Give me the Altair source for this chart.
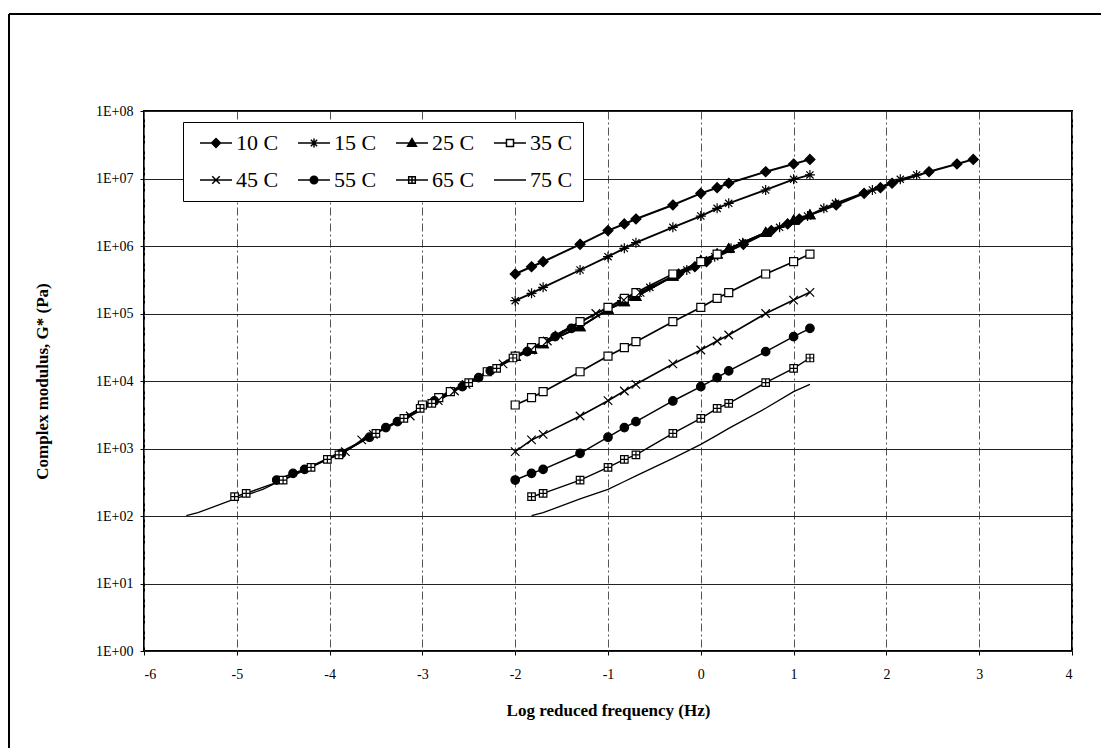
import altair as alt
import pandas as pd

temps = ["10 C", "15 C", "25 C", "35 C", "45 C", "55 C", "65 C", "75 C"]

# log10 of test frequency (0.01 ... 15 Hz)
log_freq = [-2.0, -1.824, -1.699, -1.301, -1.0, -0.824, -0.699, -0.301,
            0.0, 0.176, 0.301, 0.699, 1.0, 1.176]

# complex modulus G* (Pa)
g_10 = [3.85e5, 4.93e5, 5.85e5, 1.06e6, 1.69e6, 2.12e6, 2.51e6, 4.05e6,
        6.03e6, 7.31e6, 8.51e6, 1.26e7, 1.64e7, 1.92e7]
g_15 = [1.55e5, 1.99e5, 2.44e5, 4.41e5, 6.95e5, 9.23e5, 1.12e6, 1.89e6,
        2.78e6, 3.61e6, 4.29e6, 6.76e6, 9.73e6, 1.13e7]
g_25 = [2.29e4, 2.95e4, 3.55e4, 6.31e4, 1.15e5, 1.48e5, 1.78e5, 3.55e5,
        6.03e5, 7.59e5, 9.12e5, 1.58e6, 2.40e6, 2.88e6]
g_35 = [4.41e3, 5.66e3, 6.95e3, 1.37e4, 2.34e4, 3.12e4, 3.83e4, 7.57e4,
        1.23e5, 1.68e5, 2.04e5, 3.85e5, 5.86e5, 7.60e5]
g_45 = [898, 1.34e3, 1.62e3, 3.03e3, 5.11e3, 7.11e3, 8.93e3, 1.79e4,
        2.88e4, 3.92e4, 4.80e4, 1.00e5, 1.58e5, 2.06e5]
g_55 = [341, 429, 491, 849, 1.47e3, 2.04e3, 2.50e3, 5.06e3,
        8.24e3, 1.12e4, 1.41e4, 2.72e4, 4.54e4, 6.03e4]
g_65 = [None, 193, 217, 341, 526, 692, 802, 1.68e3,
        2.80e3, 3.94e3, 4.67e3, 9.44e3, 1.54e4, 2.19e4]
g_75 = [None, 101, 112, 179, 248, 324, 392, 714,
        1.15e3, 1.58e3, 1.99e3, 3.94e3, 6.95e3, 8.91e3]

# horizontal shift factors log(aT) used for the master curve
log_shift = [1.76, 1.15, 0.0, -1.0, -1.83, -2.57, -3.2, -3.72]

series = [g_10, g_15, g_25, g_35, g_45, g_55, g_65, g_75]

rows = []
for t, vals, sh in zip(temps, series, log_shift):
    for lf, g in zip(log_freq, vals):
        if g is None:
            continue
        rows.append({"Temp": t, "set": "measured", "x": lf, "G": g})
        rows.append({"Temp": t, "set": "shifted", "x": lf + sh, "G": g})
df = pd.DataFrame(rows)
df["series"] = df["Temp"] + " " + df["set"]


def fmt(v):
    return f"{v:.3f}".rstrip("0").rstrip(".")


def marker(kind, cx, s):
    if kind == "diamond":
        return f"M{fmt(cx)},{fmt(-s)}L{fmt(cx+s)},0L{fmt(cx)},{fmt(s)}L{fmt(cx-s)},0Z"
    if kind == "asterisk":
        d = 0.72 * s
        return (f"M{fmt(cx-s)},0H{fmt(cx+s)}M{fmt(cx)},{fmt(-s)}V{fmt(s)}"
                f"M{fmt(cx-d)},{fmt(-d)}L{fmt(cx+d)},{fmt(d)}M{fmt(cx-d)},{fmt(d)}L{fmt(cx+d)},{fmt(-d)}")
    if kind == "triangle":
        return f"M{fmt(cx)},{fmt(-s)}L{fmt(cx+s)},{fmt(0.75*s)}L{fmt(cx-s)},{fmt(0.75*s)}Z"
    if kind == "square":
        a = 0.8 * s
        return f"M{fmt(cx-a)},{fmt(-a)}H{fmt(cx+a)}V{fmt(a)}H{fmt(cx-a)}Z"
    if kind == "x":
        a = 0.85 * s
        return f"M{fmt(cx-a)},{fmt(-a)}L{fmt(cx+a)},{fmt(a)}M{fmt(cx-a)},{fmt(a)}L{fmt(cx+a)},{fmt(-a)}"
    if kind == "circle":
        r = 0.85 * s
        return (f"M{fmt(cx+r)},0A{fmt(r)},{fmt(r)},0,1,1,{fmt(cx-r)},0"
                f"A{fmt(r)},{fmt(r)},0,1,1,{fmt(cx+r)},0Z")
    if kind == "sqplus":
        a = 0.75 * s
        return (f"M{fmt(cx-a)},{fmt(-a)}H{fmt(cx+a)}V{fmt(a)}H{fmt(cx-a)}Z"
                f"M{fmt(cx)},{fmt(-a)}V{fmt(a)}M{fmt(cx-a)},0H{fmt(cx+a)}")
    return ""


kinds = ["diamond", "asterisk", "triangle", "square", "x", "circle", "sqplus", "none"]
fills = ["black", "black", "black", "white", "black", "black", "white", "black"]
widths = [2.0, 1.3, 1.8, 1.2, 1.5, 2.0, 1.2, 1.8]

plot_paths = [marker(k, 0, 1) for k in kinds[:7]]

leg_paths = []
for k in kinds:
    cx, s = 1.5, 0.55
    if k == "none":
        leg_paths.append("M-0.5,0H3.5")
    elif k in ("square", "sqplus"):
        a = 0.8 * s if k == "square" else 0.75 * s
        leg_paths.append(f"M-0.5,0H{fmt(cx-a)}M{fmt(cx+a)},0H3.5" + marker(k, cx, s))
    else:
        leg_paths.append("M-0.5,0H3.5" + marker(k, cx, s))

SERIF = "Liberation Serif"

xs = alt.Scale(domain=[-6, 4], nice=False, zero=False)
ys = alt.Scale(type="log", domain=[1, 1e8], nice=False)

x_axis = alt.Axis(
    values=list(range(-6, 5)), labelExpr="'' + datum.value", grid=True, gridColor="#555",
    gridDash=[8, 3, 2, 3], gridWidth=1, domain=False, tickColor="black",
    tickSize=4, labelFont=SERIF, labelFontSize=14, labelColor="black",
    labelPadding=12, title="Log reduced frequency (Hz)", titleFont=SERIF,
    titleFontSize=17, titleFontWeight="bold", titleColor="black", titlePadding=21,
)
y_axis = alt.Axis(
    values=[10 ** k for k in range(9)],
    labelExpr="'1E+0' + round(log(datum.value) / LN10)",
    grid=True, gridColor="#222", gridWidth=1.2, domain=False, tickColor="black",
    tickSize=4, labelFont=SERIF, labelFontSize=14, labelColor="black",
    labelPadding=7, title="Complex modulus, G* (Pa)", titleFont=SERIF,
    titleFontSize=17, titleFontWeight="bold", titleColor="black", titlePadding=44,
)

base = alt.Chart(df)

lines = base.mark_line(color="black").encode(
    x=alt.X("x:Q", scale=xs, axis=x_axis),
    y=alt.Y("G:Q", scale=ys, axis=y_axis),
    detail="series:N",
    strokeWidth=alt.StrokeWidth("Temp:N", scale=alt.Scale(domain=temps, range=widths), legend=None),
)

points = base.transform_filter("datum.Temp != '75 C'").mark_point(
    filled=True, stroke="black", strokeWidth=1.2, size=100, opacity=1
).encode(
    x=alt.X("x:Q", scale=xs),
    y=alt.Y("G:Q", scale=ys),
    shape=alt.Shape("Temp:N", scale=alt.Scale(domain=temps[:7], range=plot_paths), legend=None),
    fill=alt.Fill("Temp:N", scale=alt.Scale(domain=temps[:7], range=fills[:7]), legend=None),
)

leg = alt.Legend(
    title=None, orient="none", legendX=39, legendY=11, columns=4,
    direction="horizontal",
    columnPadding=12, rowPadding=15, padding=10, strokeColor="black",
    fillColor="white", labelFont=SERIF, labelFontSize=22, labelColor="black",
    labelOffset=21, labelLimit=300, symbolSize=256, symbolStrokeWidth=1.5,
    symbolFillColor="white", symbolOpacity=1, cornerRadius=0,
)

legend_layer = base.transform_filter("false").mark_point(
    filled=True, strokeWidth=1.5
).encode(
    x=alt.X("x:Q", scale=xs),
    y=alt.Y("G:Q", scale=ys),
    shape=alt.Shape("Temp:N", scale=alt.Scale(domain=temps, range=leg_paths), legend=leg),
    fill=alt.Fill("Temp:N", scale=alt.Scale(domain=temps, range=fills), legend=leg),
    stroke=alt.Stroke("Temp:N", scale=alt.Scale(domain=temps, range=["black"] * 8), legend=leg),
)

frame_src = alt.Chart(pd.DataFrame({"k": [0]}))
frame_top = frame_src.mark_rule(color="black", strokeWidth=2).encode(
    x=alt.value(-135), x2=alt.value(970), y=alt.value(-97)
)
frame_left = frame_src.mark_rule(color="black", strokeWidth=2).encode(
    x=alt.value(-135), y=alt.value(-97), y2=alt.value(650)
)

chart = alt.layer(frame_top, frame_left, lines, points, legend_layer).resolve_scale(
    shape="independent", fill="independent", stroke="independent"
).properties(
    width=928, height=540,
    padding={"left": 136, "top": 103, "right": 29, "bottom": 97},
    autosize=alt.AutoSizeParams(type="none"),
    background="white",
).configure_view(stroke="black", strokeWidth=2)

chart.save("out.html", embed_options={"renderer": "svg", "actions": False})
